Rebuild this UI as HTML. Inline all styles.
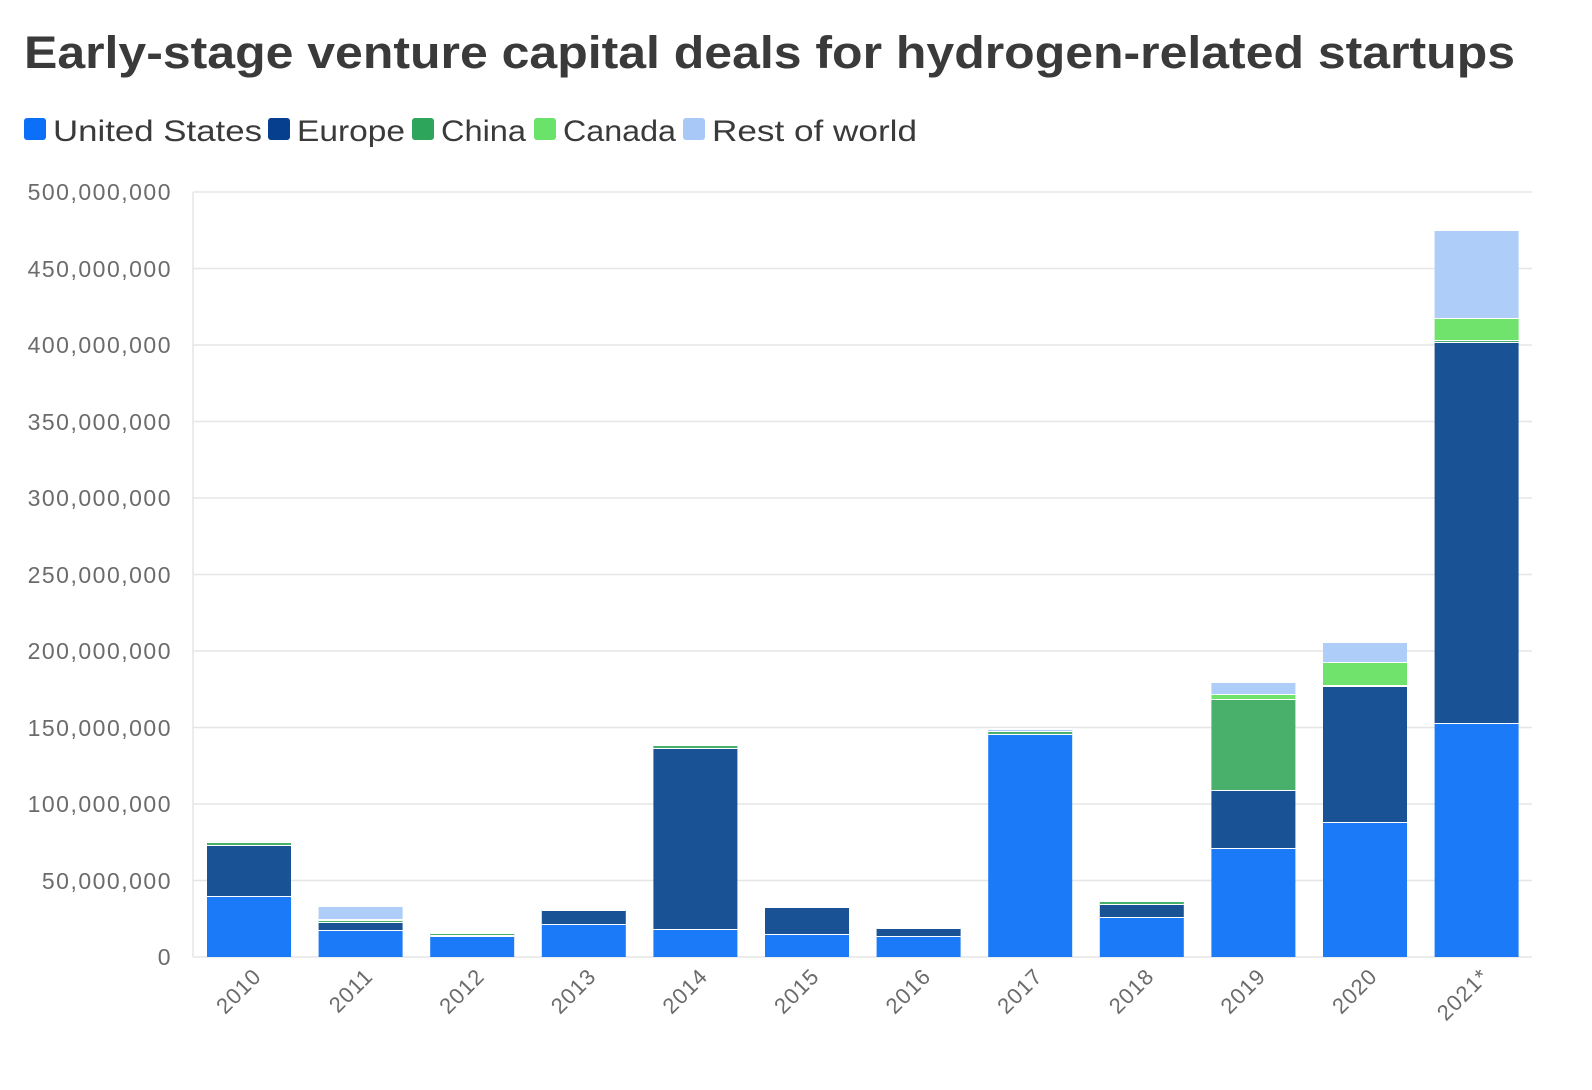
<!DOCTYPE html>
<html><head><meta charset="utf-8"><style>
body{margin:0;background:#fff;}
svg{display:block;font-family:"Liberation Sans",sans-serif;}
</style></head><body>
<svg width="1592" height="1090" viewBox="0 0 1592 1090" xmlns="http://www.w3.org/2000/svg">
<text x="24" y="68" font-size="45" font-weight="bold" fill="#3a3a3a" textLength="1491" lengthAdjust="spacingAndGlyphs">Early-stage venture capital deals for hydrogen-related startups</text>
<g font-size="30" fill="#3a3a3a">
<rect x="24" y="118" width="22" height="22" rx="3" fill="#0b6ff7"/><text x="53" y="141" textLength="209" lengthAdjust="spacingAndGlyphs">United States</text>
<rect x="268" y="118" width="22" height="22" rx="3" fill="#063f8e"/><text x="297" y="141" textLength="108" lengthAdjust="spacingAndGlyphs">Europe</text>
<rect x="412" y="118" width="22" height="22" rx="3" fill="#2da55a"/><text x="441" y="141" textLength="85" lengthAdjust="spacingAndGlyphs">China</text>
<rect x="534" y="118" width="22" height="22" rx="3" fill="#6ae36a"/><text x="563" y="141" textLength="113" lengthAdjust="spacingAndGlyphs">Canada</text>
<rect x="683" y="118" width="22" height="22" rx="3" fill="#a8c8f7"/><text x="712" y="141" textLength="205" lengthAdjust="spacingAndGlyphs">Rest of world</text>
</g>
<g stroke="#e6e6e6" stroke-width="1.5">
<line x1="193" y1="192" x2="1532" y2="192"/><line x1="193" y1="268.5" x2="1532" y2="268.5"/><line x1="193" y1="345" x2="1532" y2="345"/><line x1="193" y1="421.5" x2="1532" y2="421.5"/><line x1="193" y1="498" x2="1532" y2="498"/><line x1="193" y1="574.5" x2="1532" y2="574.5"/><line x1="193" y1="651" x2="1532" y2="651"/><line x1="193" y1="727.5" x2="1532" y2="727.5"/><line x1="193" y1="804" x2="1532" y2="804"/><line x1="193" y1="880.5" x2="1532" y2="880.5"/><line x1="193" y1="957" x2="1532" y2="957"/><line x1="193" y1="192" x2="193" y2="957"/>
</g>
<g font-size="23" fill="#6b6b6b" text-anchor="end" letter-spacing="1.5">
<text x="172" y="200">500,000,000</text><text x="172" y="277">450,000,000</text><text x="172" y="353">400,000,000</text><text x="172" y="430">350,000,000</text><text x="172" y="506">300,000,000</text><text x="172" y="583">250,000,000</text><text x="172" y="659">200,000,000</text><text x="172" y="736">150,000,000</text><text x="172" y="812">100,000,000</text><text x="172" y="889">50,000,000</text><text x="172" y="965">0</text>
</g>
<g id="bars"></g>
<g id="xl" font-size="22" fill="#6b6b6b" text-anchor="end" letter-spacing="1"></g>
<script>
var d=[["2010",[896,845,842,841,841]],["2011",[930,922,920,919,906]],["2012",[936,935,933,933,933]],["2013",[924,910,909,909,909]],["2014",[929,748,745,744,744]],["2015",[934,907,906,906,906]],["2016",[936,928,927,927,927]],["2017",[734,734,731,731,729]],["2018",[917,904,901,901,901]],["2019",[848,790,699,694,682]],["2020",[822,686,685,662,642]],["2021*",[723,342,340,318,231]]];
var c=["#1a7af8","#1a5296","#48b06b","#6fe36b","#aecdf8"];
var g=document.getElementById("bars"),xl=document.getElementById("xl"),ns="http://www.w3.org/2000/svg";
d.forEach(function(r,i){var x=207+i*111.6,prev=957;
r[1].forEach(function(t,j){var h=prev-t;if(h>0.5){var e=document.createElementNS(ns,"rect");e.setAttribute("x",x);e.setAttribute("width",84);e.setAttribute("y",t);e.setAttribute("height",h);e.setAttribute("fill",c[j]);g.appendChild(e);
if(t>235){var l=document.createElementNS(ns,"line");l.setAttribute("x1",x);l.setAttribute("x2",x+84);l.setAttribute("y1",t);l.setAttribute("y2",t);l.setAttribute("stroke","#fff");l.setAttribute("stroke-width","2");g.appendChild(l);}}prev=Math.min(prev,t);});
var tx=document.createElementNS(ns,"text");var cx=x+50,cy=972;tx.setAttribute("x",cx);tx.setAttribute("y",cy+8);tx.setAttribute("transform","rotate(-45 "+cx+" "+cy+")");tx.textContent=r[0];xl.appendChild(tx);});
</script>
</svg>
</body></html>
